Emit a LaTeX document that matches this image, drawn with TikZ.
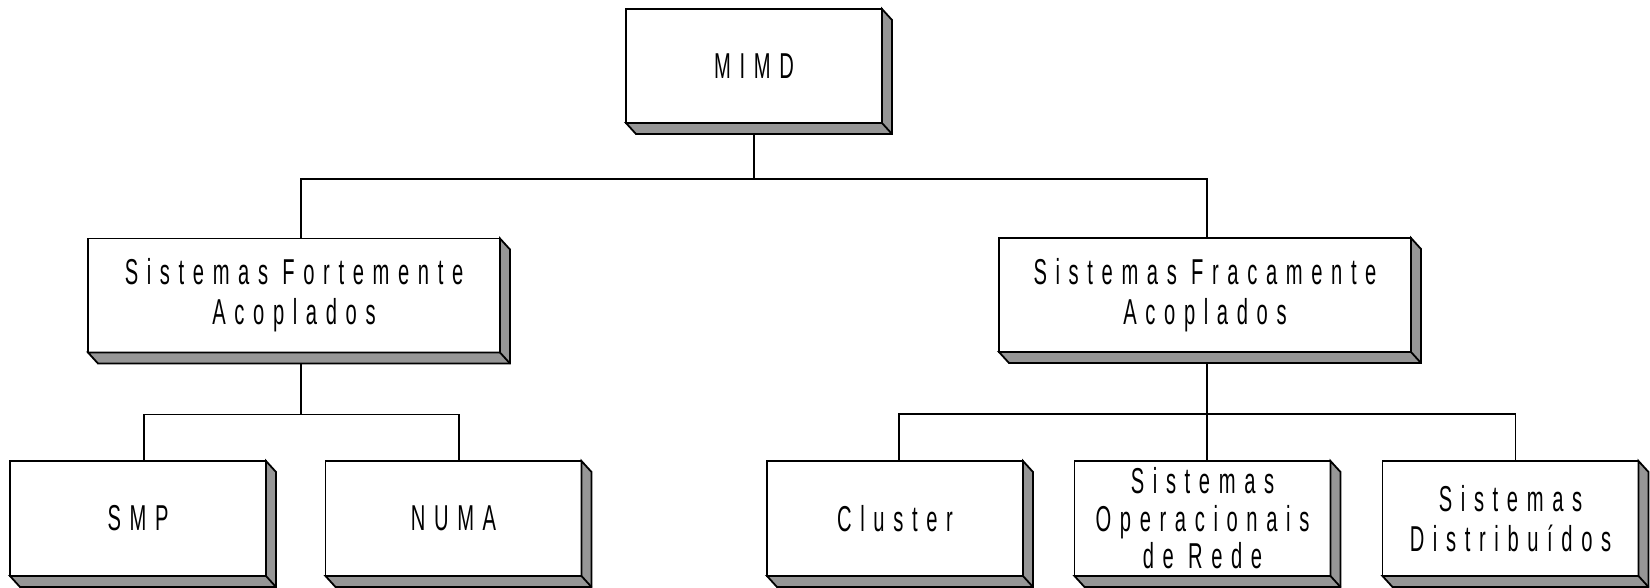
\documentclass[tikz,border=0pt]{standalone}
\usepackage{fontspec}
\newfontfamily\boxfont[FakeStretch=0.56,LetterSpace=24]{Liberation Sans}
\definecolor{facegray}{RGB}{150,150,150}
\begin{document}
\begin{tikzpicture}[x=1pt,y=1pt,
  box/.style={draw=black, line width=1.8pt, fill=white, inner sep=0pt, outer sep=0pt,
    align=center, text=black, font={\boxfont\fontsize{36}{40}\selectfont}},
  topbox/.style={box, minimum width=256, minimum height=114},
  midbox/.style={box, minimum width=412, minimum height=114},
  lowbox/.style={box, minimum width=256, minimum height=115},
  link/.style={draw=black, line width=1.8pt},
  side/.style={fill=facegray, draw=black, line width=1.8pt, line join=miter}]
\useasboundingbox (0,0) rectangle (1650,-587);

% boxes
\node[topbox] (mimd) at (754,-66) {MIMD};
\node[midbox] (fort) at (294,-295.5) {Sistemas Fortemente\\Acoplados};
\node[midbox] (frac) at (1205,-295) {Sistemas Fracamente\\Acoplados};
\node[lowbox] (smp) at (138,-518.5) {SMP};
\node[lowbox] (numa) at (453.5,-518.5) {NUMA};
\node[lowbox] (cluster) at (895,-518.5) {Cluster};
\node[lowbox, font={\boxfont\fontsize{36}{37.5}\selectfont}] (oper) at (1202.5,-518.5) {Sistemas\\Operacionais\\de Rede};
\node[lowbox] (dist) at (1510.5,-518.5) {Sistemas\\Distribuídos};

% 3D side faces
\foreach \n in {mimd,fort,frac,smp,numa,cluster,oper,dist}{
  \filldraw[side] (\n.north east) -- ++(10,-11) -- ([shift={(10,-11)}]\n.south east)
    -- ([shift={(10,-11)}]\n.south west) -- (\n.south west) -- (\n.south east) -- cycle;
  \draw[side] (\n.south east) -- ++(10,-11);
}

% connectors
\draw[link] ([yshift=-11]mimd.south) -- ++(0,-45) -| ([xshift=7]fort.north);
\draw[link] ([yshift=-11]mimd.south) -- ++(0,-45) -| ([xshift=2]frac.north);
\draw[link] ([xshift=7,yshift=-11]fort.south) -- ++(0,-51) -| ([xshift=6]smp.north);
\draw[link] ([xshift=7,yshift=-11]fort.south) -- ++(0,-51) -| ([xshift=5.5]numa.north);
\draw[link] ([xshift=2,yshift=-11]frac.south) -- ++(0,-51) -| ([xshift=4]cluster.north);
\draw[link] ([xshift=2,yshift=-11]frac.south) -- ([xshift=4.5]oper.north);
\draw[link] ([xshift=2,yshift=-11]frac.south) -- ++(0,-51) -| ([xshift=5]dist.north);
\end{tikzpicture}
\end{document}
